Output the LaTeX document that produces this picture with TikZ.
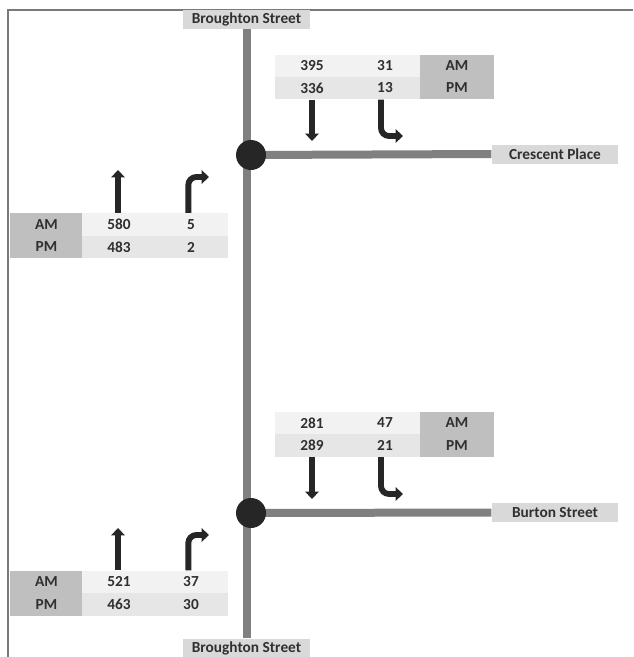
\documentclass[tikz,border=0pt]{standalone}
\usepackage{fontspec}
\setmainfont{Carlito}
\usetikzlibrary{arrows.meta}
\definecolor{roadc}{HTML}{808080}
\definecolor{lblc}{HTML}{D9D9D9}
\definecolor{rowa}{HTML}{F2F2F2}
\definecolor{rowb}{HTML}{E6E6E6}
\definecolor{darkc}{HTML}{BFBFBF}
\definecolor{inkc}{HTML}{262626}
\definecolor{txtc}{HTML}{303030}
\definecolor{framec}{HTML}{7A7A7A}
\tikzset{
  road/.style={draw=roadc, line width=6pt},
  lbl/.style={fill=lblc, inner sep=0pt, minimum width=95pt, minimum height=14.25pt, text=txtc, font=\fontsize{11.5}{13}\selectfont\bfseries},
  cellbase/.style={inner sep=0pt, minimum height=17.2pt, text=txtc, font=\fontsize{11.5}{13}\selectfont\bfseries},
  cella/.style={cellbase, fill=rowa, minimum width=55.5pt},
  cellb/.style={cellbase, fill=rowb, minimum width=55.5pt},
  celld/.style={cellbase, fill=darkc, minimum width=55.5pt},
  junc/.style={circle, fill=inkc, inner sep=0pt, minimum size=22.5pt},
  arr/.style={draw=inkc, line width=4.4pt, -{Triangle[width=10pt,length=5.5pt]}},
  turnarr/.style={arr, rounded corners=6pt},
}
\begin{document}
\begin{tikzpicture}[x=0.75pt,y=-0.75pt]
\useasboundingbox (0,0) rectangle (633,657);
% frame
\draw[framec, line width=1.2pt] (8,657) -- (8,10) -- (633,10);

% street labels
\node[lbl] (bnorth) at (246.5,19) {Broughton Street};
\node[lbl] (bsouth) at (246.5,648) {Broughton Street};
\node[lbl] (cres) at (555,154) {Crescent Place};
\node[lbl] (burt) at (555,512.5) {Burton Street};

% junctions
\coordinate (j1) at (251,155);
\coordinate (j2) at (251,513);

% roads
\draw[road] (bnorth.south) -- (bsouth.north);
\draw[road] (j1) -- (cres.west);
\draw[road] (j2) -- (burt.west);
\node[junc] (c1) at (j1) {};
\node[junc] (c2) at (j2) {};

% top-right table (Crescent Place)
\node[cella] (t1a1) at (312,66) {395};
\node[cella] (t1b1) at (385,66) {31};
\node[celld] (t1c1) at (457,66) {AM};
\node[cellb] (t1a2) at (312,88) {336};
\node[cellb] (t1b2) at (385,88) {13};
\node[celld] (t1c2) at (457,88) {PM};

% left table 1
\node[celld] (t2a1) at (46.5,224.5) {AM};
\node[cella] (t2b1) at (119,224.5) {580};
\node[cella] (t2c1) at (191,224.5) {5};
\node[celld] (t2a2) at (46.5,247) {PM};
\node[cellb] (t2b2) at (119,247) {483};
\node[cellb] (t2c2) at (191,247) {2};

% right table 2 (Burton Street)
\node[cella] (t3a1) at (312,423) {281};
\node[cella] (t3b1) at (385,423) {47};
\node[celld] (t3c1) at (457,423) {AM};
\node[cellb] (t3a2) at (312,445.5) {289};
\node[cellb] (t3b2) at (385,445.5) {21};
\node[celld] (t3c2) at (457,445.5) {PM};

% left table 2
\node[celld] (t4a1) at (46.5,582) {AM};
\node[cella] (t4b1) at (119,582) {521};
\node[cella] (t4c1) at (191,582) {37};
\node[celld] (t4a2) at (46.5,604.5) {PM};
\node[cellb] (t4b2) at (119,604.5) {463};
\node[cellb] (t4c2) at (191,604.5) {30};

% arrow ends
\coordinate (e1) at (312,141);
\coordinate (e2) at (403,136);
\coordinate (e3) at (118,170);
\coordinate (e4) at (209,177);
\coordinate (e5) at (312,499);
\coordinate (e6) at (403,494);
\coordinate (e7) at (118,528);
\coordinate (e8) at (209,535);

% arrows
\draw[arr] (t1a2.south) -- (e1);
\draw[turnarr] ([xshift=-3pt]t1b2.south) |- (e2);
\draw[arr] ([xshift=-0.75pt]t2b1.north) -- (e3);
\draw[turnarr] ([xshift=-2pt]t2c1.north) |- (e4);
\draw[arr] (t3a2.south) -- (e5);
\draw[turnarr] ([xshift=-3pt]t3b2.south) |- (e6);
\draw[arr] ([xshift=-0.75pt]t4b1.north) -- (e7);
\draw[turnarr] ([xshift=-2pt]t4c1.north) |- (e8);
\end{tikzpicture}
\end{document}
